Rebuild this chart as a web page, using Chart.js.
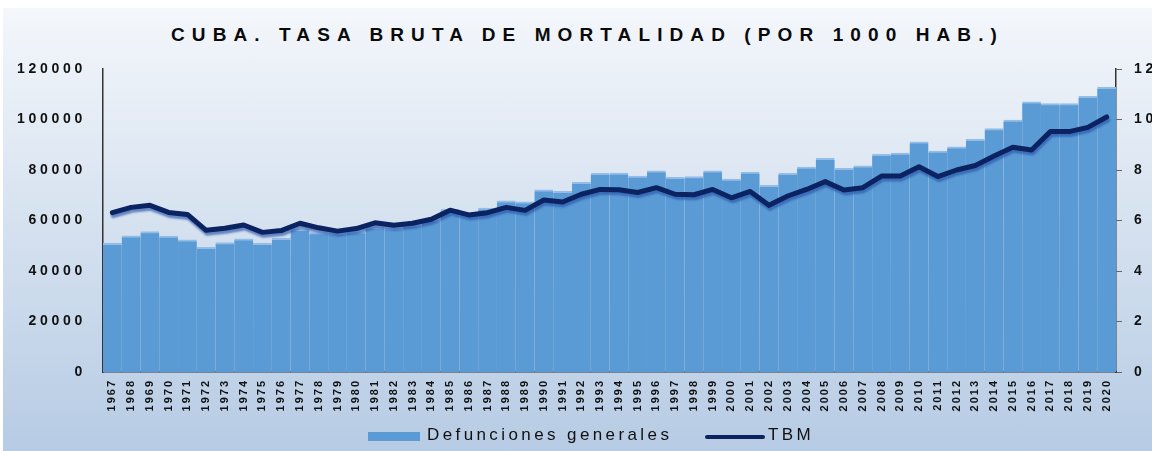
<!DOCTYPE html>
<html>
<head>
<meta charset="utf-8">
<script src="https://cdn.jsdelivr.net/npm/chart.js@4.4.1/dist/chart.umd.min.js"></script>
<style>
body{margin:0;background:#fff;width:1152px;height:451px;overflow:hidden;font-family:"Liberation Sans",Arial,sans-serif}
#panel{position:absolute;left:3px;top:8px;width:1149px;height:443px;background:linear-gradient(#f4f7fb,#b6cbe4)}
#wrap{position:absolute;left:0;top:0;width:1152px;height:451px}
#title{position:absolute;left:0;top:22px;width:1175px;text-align:center;font-weight:bold;font-size:19px;line-height:26px;color:#0a0a0a;letter-spacing:7.1px}
.leg{position:absolute;font-size:17px;letter-spacing:3.4px;color:#111;line-height:20px}
.sw{position:absolute}
</style>
</head>
<body>
<div id="panel"></div>
<div id="title">CUBA. TASA BRUTA DE MORTALIDAD (POR 1000 HAB.)</div>
<div id="wrap"><canvas id="data_chart"></canvas></div>
<div class="sw" style="left:368px;top:432px;width:52px;height:9px;background:#5b9bd5"></div>
<div class="leg" style="left:427px;top:425px">Defunciones generales</div>
<div class="sw" style="left:705px;top:435px;width:60px;height:4px;background:#0b2361;border-radius:2px"></div>
<div class="leg" style="left:768px;top:425px">TBM</div>
<script>
const years=['1967','1968','1969','1970','1971','1972','1973','1974','1975','1976',
  '1977','1978','1979','1980','1981','1982','1983','1984','1985','1986',
  '1987','1988','1989','1990','1991','1992','1993','1994','1995','1996',
  '1997','1998','1999','2000','2001','2002','2003','2004','2005','2006',
  '2007','2008','2009','2010','2011','2012','2013','2014','2015','2016',
  '2017','2018','2019','2020']

// defunciones generales (left axis)
const defunciones=[51000,53900,55600,53800,52300,49400,51300,52700,51000,52900,
  56500,55200,55000,55500,57300,57000,58200,60300,64400,63000,
  64900,67800,67400,72100,71600,75100,78700,78800,77600,79700,
  77100,77400,79700,76400,79200,73900,78700,81200,84600,80700,
  81700,86200,86700,91200,87500,89200,92100,96400,99800,107000,
  106300,106300,109200,112700]

// tasa bruta de mortalidad (right axis)
const tbm=[6.31,6.52,6.6,6.32,6.24,5.61,5.69,5.82,5.53,5.6,
  5.89,5.71,5.58,5.68,5.91,5.81,5.89,6.05,6.41,6.22,
  6.31,6.52,6.4,6.81,6.73,7.04,7.23,7.22,7.11,7.3,
  7.04,7.02,7.23,6.9,7.15,6.6,6.97,7.23,7.54,7.21,
  7.3,7.76,7.76,8.13,7.74,8.0,8.18,8.55,8.9,8.79,
  9.52,9.52,9.69,10.1]

const leftTicks=[0,20000,40000,60000,80000,100000,120000]
const rightTicks=[0,2,4,6,8,10,12]

const spacing={x:'2px',y:'3.7px',y1:'3.7px'}

// canvas letterSpacing per axis
const spacingPlugin={
  id:'spacing',
  afterLayout(chart){
    Object.values(chart.scales).forEach(s=>{
      if(s._spaced)return
      const orig=s.drawLabels
      s.drawLabels=function(area){
        this.ctx.save()
        this.ctx.letterSpacing=spacing[this.id]||'0px'
        orig.call(this,area)
        this.ctx.restore()
      }
      s._spaced=true
    })
  }
}

// soft shadow under the TBM line
const shadowPlugin={
  id:'shadow',
  beforeDatasetDraw(chart,args){
    if(args.meta.type!=='line')return
    const ctx=chart.ctx
    ctx.save()
    ctx.shadowColor='rgba(40,85,170,0.65)'
    ctx.shadowOffsetX=1
    ctx.shadowOffsetY=3
    ctx.shadowBlur=2
  },
  afterDatasetDraw(chart,args){
    if(args.meta.type!=='line')return
    chart.ctx.restore()
  }
}

const tickFont={family:'"Liberation Sans", Arial, sans-serif',size:14,weight:'bold'}

new Chart('data_chart',{
  type:'bar',
  data:{
    labels:years,
    datasets:[{
      type:'line',
      label:'TBM',
      data:tbm,
      yAxisID:'y1',
      borderColor:'#0b2361',
      borderWidth:5,
      borderCapStyle:'round',
      borderJoinStyle:'round',
      pointRadius:0,
      tension:0,
      order:0
    },{
      label:'Defunciones generales',
      data:defunciones,
      yAxisID:'y',
      backgroundColor:'#5b9bd5',
      borderColor:'#93bde6',
      borderWidth:{top:2,left:0,right:0,bottom:0},
      borderSkipped:false,
      categoryPercentage:1,
      barPercentage:1,
      order:1
    }]
  },
  options:{
    responsive:true,
    maintainAspectRatio:false,
    animation:false,
    events:[],
    layout:{padding:{top:69,bottom:34,left:0,right:0}},
    plugins:{legend:{display:false},title:{display:false},tooltip:{enabled:false}},
    scales:{
      x:{
        offset:true,
        grid:{display:false,drawTicks:false},
        border:{display:true,color:'#333',width:1.5},
        ticks:{autoSkip:false,minRotation:90,maxRotation:90,padding:7,color:'#111',
          font:{family:'"Liberation Sans", Arial, sans-serif',size:11,weight:'bold'}},
        afterFit(s){s.height=45}
      },
      y:{
        position:'left',
        min:0,max:120000,
        afterBuildTicks(s){s.ticks=leftTicks.map(v=>({value:v}))},
        grid:{display:false,drawTicks:false},
        border:{display:true,color:'#333',width:1.5},
        ticks:{padding:17,color:'#111',font:tickFont,callback:v=>String(v)},
        afterFit(s){s.width=103}
      },
      y1:{
        position:'right',
        min:0,max:12,
        afterBuildTicks(s){s.ticks=rightTicks.map(v=>({value:v}))},
        grid:{display:true,drawOnChartArea:false,drawTicks:true,tickLength:6,color:'#666'},
        border:{display:true,color:'#333',width:1.5},
        ticks:{padding:12,color:'#111',font:tickFont,callback:v=>String(v)},
        afterFit(s){s.width=36}
      }
    }
  },
  plugins:[spacingPlugin,shadowPlugin]
})
</script>
</body>
</html>
